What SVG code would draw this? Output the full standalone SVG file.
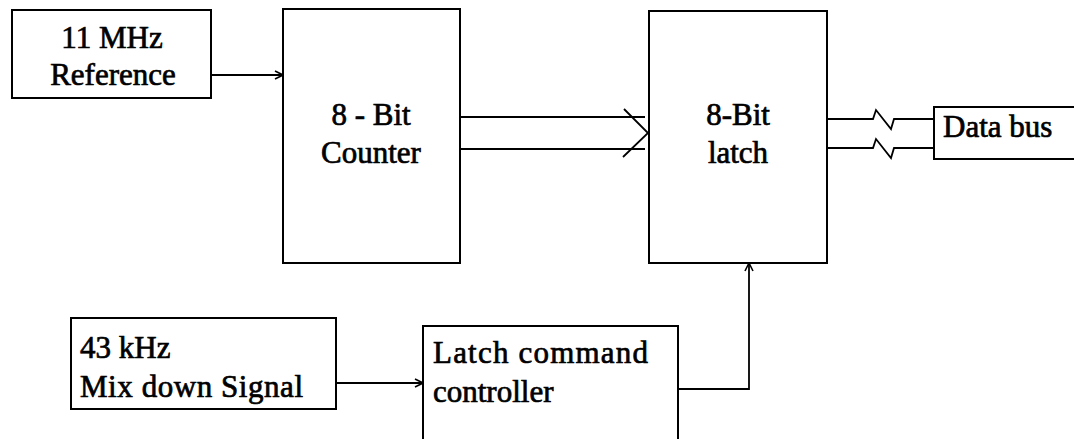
<svg xmlns="http://www.w3.org/2000/svg" width="1074" height="439" viewBox="0 0 1074 439">
<defs>
<marker id="arr" markerWidth="10" markerHeight="10" refX="9" refY="5" orient="auto" markerUnits="userSpaceOnUse">
<path d="M1,1 L9,5 L1,9" fill="none" stroke="#000" stroke-width="1.6"/>
</marker>
</defs>
<style>
.box{fill:#fff;stroke:#000;stroke-width:2}
.ln{fill:none;stroke:#000;stroke-width:1.8}
text{font-family:"Liberation Serif","Times New Roman",serif;font-size:31px;fill:#000;stroke:#000;stroke-width:0.7}
.c{text-anchor:middle}
</style>
<rect width="1074" height="439" fill="#fff"/>
<g id="ref11">
<rect class="box" x="12" y="10" width="199" height="88"/>
<text class="c" x="112" y="48">11 MHz</text>
<text class="c" x="113" y="85">Reference</text>
</g>
<g id="counter">
<rect class="box" x="283" y="9" width="177" height="254"/>
<text class="c" x="371" y="125">8 - Bit</text>
<text class="c" x="371" y="163">Counter</text>
</g>
<g id="latch">
<rect class="box" x="649" y="11" width="178" height="252"/>
<text class="c" x="738" y="125">8-Bit</text>
<text class="c" x="738" y="163">latch</text>
</g>
<g id="databus">
<rect class="box" x="934" y="107" width="142" height="52"/>
<text x="943" y="137">Data bus</text>
</g>
<g id="mix">
<rect class="box" x="71" y="318" width="265" height="91"/>
<text x="80" y="358">43 kHz</text>
<text x="80" y="397" textLength="223">Mix down Signal</text>
</g>
<g id="latchcmd">
<rect class="box" x="423" y="326" width="255" height="115"/>
<text x="433" y="363" textLength="215">Latch command</text>
<text x="433" y="402">controller</text>
</g>
<g id="connectors">
<line class="ln" x1="211" y1="75" x2="283" y2="75" marker-end="url(#arr)"/>
<line class="ln" x1="460" y1="117" x2="645" y2="117"/>
<line class="ln" x1="460" y1="149" x2="645" y2="149"/>
<path class="ln" d="M624,109 L648,133 L623,157" stroke-width="2.4"/>
<path class="ln" d="M827,119 L873,119 L876,110 L891,129 L894,119 L934,119"/>
<path class="ln" d="M827,148 L873,148 L876,139 L891,158 L894,148 L934,148"/>
<line class="ln" x1="336" y1="383" x2="423" y2="383" marker-end="url(#arr)"/>
<path class="ln" d="M678,389 L749,389 L749,263" marker-end="url(#arr)"/>
</g>
</svg>
